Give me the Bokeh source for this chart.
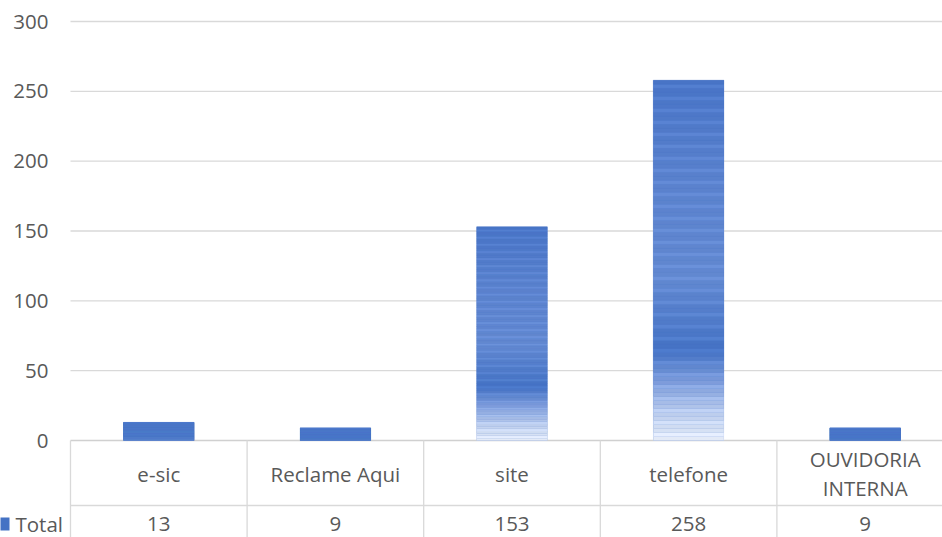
import numpy as np
from bokeh.plotting import figure
from bokeh.models import Range1d, ColumnDataSource
from bokeh.core.properties import value
from bokeh.embed import file_html
from bokeh.resources import INLINE

# ---- data ----
categories = ["e-sic", "Reclame Aqui", "site", "telefone", "OUVIDORIA\nINTERNA"]
totals = [13, 9, 153, 258, 9]
y_ticks = [0, 50, 100, 150, 200, 250, 300]
series_name = "Total"

FONT = "Open Sans"
FS = "20.5px"
TXT = "#595959"
GRID = "#d9d9d9"
BLUE = "#4472c4"

W, H = 942, 537
area_left_px = 70          # left edge of the plotting area / data table
zero_px, top_tick_px = 440, 21
px_per_unit = (zero_px - top_tick_px) / 300.0
col_px = 176.6

n = len(categories)
xs = np.arange(n) + 0.5
x_start = -area_left_px / col_px
x_end = x_start + W / col_px
y_start = -(H - zero_px) / px_per_unit
y_end = 300 + top_tick_px / px_per_unit

def px_x(px):   # horizontal canvas offset -> data x
    return (px - area_left_px) / col_px

def px_y(px):   # vertical canvas offset -> data y
    return -(px - zero_px) / px_per_unit

p = figure(width=W, height=H, output_backend="svg", toolbar_location=None,
           x_range=Range1d(x_start, x_end), y_range=Range1d(y_start, y_end),
           min_border_left=0, min_border_right=0, min_border_top=0,
           min_border_bottom=0)
p.outline_line_color = None
p.background_fill_color = "white"
p.border_fill_color = "white"
p.xaxis.visible = False
p.yaxis.visible = False
p.xgrid.visible = False
p.ygrid.visible = False

# ---- value axis: grid lines and tick labels ----
p.segment(x0=[0] * len(y_ticks), x1=[x_end] * len(y_ticks), y0=y_ticks, y1=y_ticks,
          line_color=[("#d0d0d0" if t == 0 else GRID) for t in y_ticks], line_width=1.3)
p.text(x=[px_x(48)] * len(y_ticks), y=y_ticks, text=[str(t) for t in y_ticks],
       text_align="right", text_baseline="middle", text_font=value(FONT),
       text_font_size=FS, text_color=TXT)

# ---- bars: solid base + gradient strips computed from each value ----
bar_w = 0.40
p.vbar(x=xs, top=totals, width=bar_w, fill_color=BLUE, line_color=None)

def hex2rgb(h):
    return np.array([int(h[i:i + 2], 16) for i in (1, 3, 5)], dtype=float)

stops_f = [0.0, 0.08, 0.16, 0.25, 0.45, 0.7, 1.0]
stops_c = [hex2rgb(c) for c in ["#e6ecf8", "#b9cbec", "#7f9ddb", "#4472c4", "#6288d0", "#5b82cd", "#4874c6"]]
dark = hex2rgb("#4a77c8")

N = 90
lefts, rights, bottoms, tops, colors = [], [], [], [], []
for xi, v in zip(xs, totals):
    fr = np.linspace(0, 1, N + 1)
    amt = min(1.0, v / 120.0)
    for i in range(N):
        f = (fr[i] + fr[i + 1]) / 2
        c = np.array([np.interp(f, stops_f, [s[k] for s in stops_c]) for k in range(3)])
        c = dark + (c - dark) * amt
        if i % 3 == 1:
            c = np.minimum(255, c + 10)
        lefts.append(xi - bar_w / 2)
        rights.append(xi + bar_w / 2)
        bottoms.append(v * fr[i])
        tops.append(v * fr[i + 1])
        colors.append("#%02x%02x%02x" % tuple(int(round(t)) for t in c))

src = ColumnDataSource(dict(left=lefts, right=rights, bottom=bottoms, top=tops, color=colors))
p.quad(left="left", right="right", bottom="bottom", top="top", fill_color="color",
       line_color="color", line_width=0.3, source=src)

# ---- data table below the axis ----
row1_bottom = px_y(505)
row1_mid = px_y(473)
row2_mid = px_y(523.5)

bounds = np.arange(n + 1)
p.segment(x0=bounds, x1=bounds, y0=[0] * (n + 1), y1=[y_start] * (n + 1),
          line_color=GRID, line_width=1.3)
p.segment(x0=[0], x1=[x_end], y0=[row1_bottom], y1=[row1_bottom],
          line_color=GRID, line_width=1.3)

p.text(x=xs, y=[row1_mid] * n, text=categories, text_align="center",
       text_baseline="middle", text_font=value(FONT), text_font_size=FS,
       text_color=TXT, text_line_height=1.04)
p.text(x=xs, y=[row2_mid] * n, text=[str(t) for t in totals], text_align="center",
       text_baseline="middle", text_font=value(FONT), text_font_size=FS,
       text_color=TXT)

# legend key + series name heading the value row
p.quad(left=[px_x(-4)], right=[px_x(9)], top=[px_y(517)], bottom=[px_y(530)],
       fill_color=BLUE, line_color=None)
p.text(x=[px_x(15)], y=[row2_mid], text=[series_name], text_align="left",
       text_baseline="middle", text_font=value(FONT), text_font_size=FS,
       text_color=TXT)

open("out.html", "w").write(file_html(p, INLINE))
